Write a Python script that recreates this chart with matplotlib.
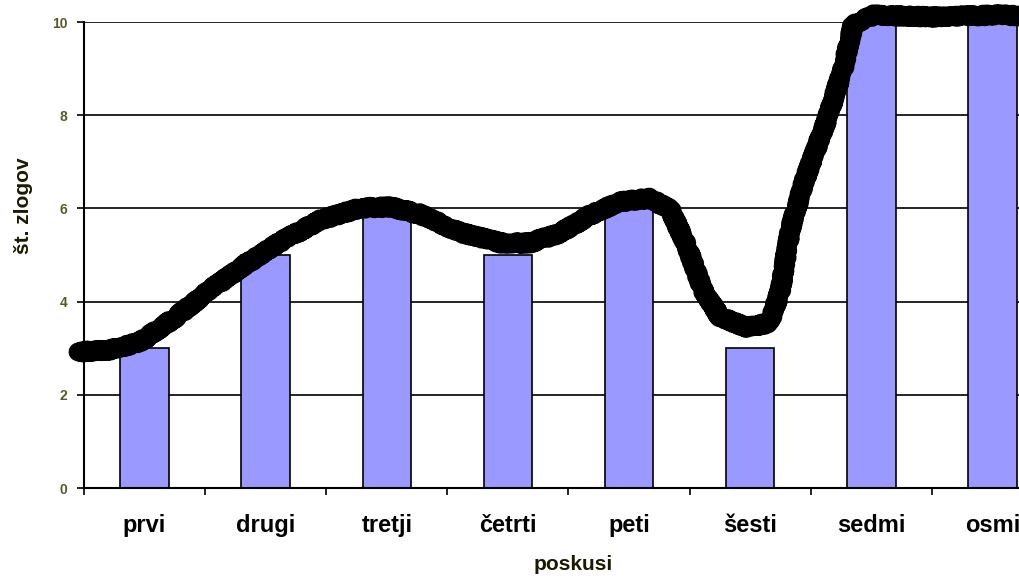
import matplotlib
matplotlib.use("Agg")
import matplotlib.pyplot as plt
import numpy as np

plt.rcParams['font.family'] = ['Liberation Sans', 'DejaVu Sans']

# podatki
poskusi = ["prvi", "drugi", "tretji", "četrti", "peti", "šesti", "sedmi", "osmi"]
zlogi = [3, 5, 6, 5, 6, 3, 10, 10]

# ročno narisana krivulja (odčitano s slike)
krivulja_x = [-0.55, -0.29, -0.04, 0.25, 0.54, 0.83, 1.12, 1.45, 1.78, 2.03,
              2.27, 2.60, 2.94, 3.18, 3.43, 3.68, 3.93, 4.17, 4.34, 4.48,
              4.61, 4.75, 4.97, 5.16, 5.25, 5.33, 5.45, 5.64, 5.77, 5.85,
              6.02, 6.51, 7.06, 7.27]
krivulja_y = [2.92, 2.96, 3.13, 3.65, 4.25, 4.79, 5.28, 5.75, 6.01, 6.03,
              5.88, 5.49, 5.26, 5.26, 5.47, 5.86, 6.14, 6.22, 5.97, 5.17,
              4.25, 3.67, 3.45, 3.54, 4.25, 5.54, 6.61, 7.96, 9.03, 9.94,
              10.15, 10.11, 10.15, 10.13]

fig = plt.figure(figsize=(10.2, 5.77), dpi=100)
ax = fig.add_axes([84/1020, 89/577, 969/1020, 466/577])

x = np.arange(len(poskusi))
ax.set_axisbelow(True)
ax.yaxis.grid(True, color='black', linewidth=1.2)
ax.bar(x, zlogi, width=0.4, color='#9999ff', edgecolor='black', linewidth=1.2, zorder=2)

crta, = ax.plot(krivulja_x, krivulja_y, color='black', linewidth=13.5,
                solid_capstyle='round', solid_joinstyle='round', clip_on=False, zorder=5)
crta.set_sketch_params(scale=1.5, length=3, randomness=10)

ax.set_xlim(-0.5, 7.5)
ax.set_ylim(0, 10)
ax.set_yticks(range(0, 11, 2))
ax.set_xticks(np.arange(-0.5, 8, 1))
ax.set_xticklabels([])
ax.set_xticks(x, minor=True)
ax.set_xticklabels(poskusi, minor=True, fontsize=17, fontweight='bold')
ax.tick_params(axis='x', which='major', direction='out', length=5, width=1.2)
ax.tick_params(axis='x', which='minor', length=0, pad=19)
ax.tick_params(axis='y', direction='out', length=5, width=1.2, labelsize=10,
               labelcolor='#5a5a26', pad=7)
for lab in ax.get_yticklabels():
    lab.set_fontweight('bold')

for s in ['top', 'right']:
    ax.spines[s].set_visible(False)
for s in ['left', 'bottom']:
    ax.spines[s].set_linewidth(1.5)
    ax.spines[s].set_zorder(3)

fig.text(573/1020, 1 - 565/577, "poskusi", ha='center', va='center',
         fontsize=15, fontweight='bold', color='#1a1a00')
fig.text(24/1020, 1 - 206/577, "št. zlogov", ha='center', va='center',
         rotation=90, fontsize=15, fontweight='bold', color='#1a1a00')

fig.savefig("out.png", dpi=100)
